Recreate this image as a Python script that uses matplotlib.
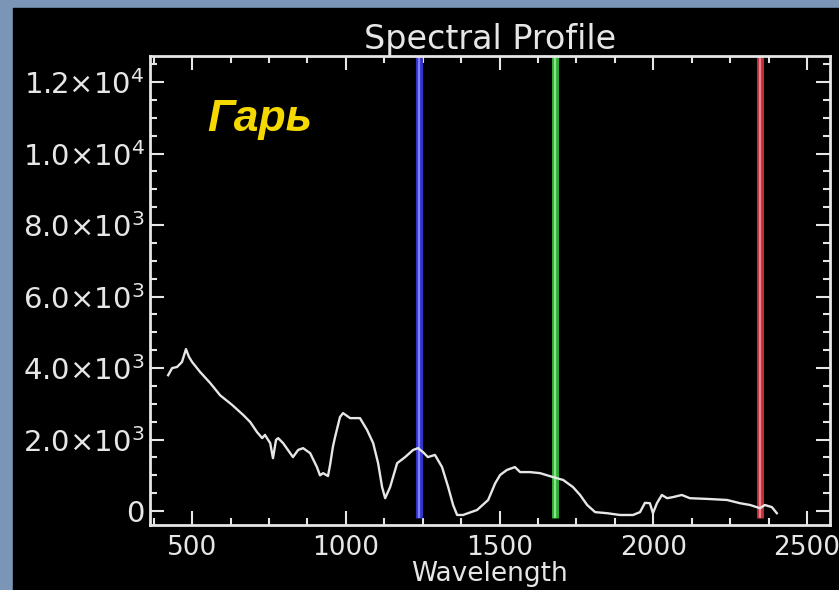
import numpy as np
import matplotlib.pyplot as plt
from matplotlib.patches import Rectangle
from matplotlib.ticker import MultipleLocator, FixedLocator, FixedFormatter

# spectral profile of a burnt area ("Гарь")
wavelength = [422, 435, 451, 467, 480, 490, 500, 526, 559, 591, 630, 666, 689,
              711, 728, 737, 754, 763, 773, 780, 796, 819, 828, 845, 861, 884,
              906, 916, 926, 942, 949, 958, 965, 981, 991, 1014, 1046, 1069,
              1089, 1105, 1118, 1128, 1144, 1167, 1193, 1219, 1235, 1251, 1267,
              1290, 1313, 1333, 1349, 1362, 1381, 1427, 1463, 1486, 1502, 1524,
              1550, 1567, 1599, 1632, 1674, 1707, 1739, 1762, 1785, 1811, 1850,
              1892, 1934, 1957, 1973, 1989, 1999, 2012, 2028, 2045, 2064, 2093,
              2119, 2175, 2240, 2282, 2315, 2347, 2363, 2386, 2402]
radiance = [3800, 4000, 4030, 4170, 4530, 4310, 4170, 3890, 3580, 3240, 2970,
            2690, 2490, 2210, 2040, 2130, 1900, 1480, 1990, 2040, 1900, 1620,
            1510, 1710, 1760, 1620, 1230, 1000, 1060, 980, 1300, 1800, 2070,
            2630, 2740, 2600, 2600, 2270, 1900, 1340, 670, 360, 670, 1340, 1510,
            1710, 1760, 1650, 1510, 1570, 1230, 670, 170, -110, -110, 30, 310,
            780, 1010, 1150, 1230, 1090, 1090, 1060, 950, 870, 670, 450, 170,
            -30, -60, -110, -110, -30, 230, 220, -60, 220, 450, 360, 390, 450,
            360, 340, 310, 220, 170, 80, 170, 110, -60]

# band markers
band_wl = [1238, 1680, 2348]
band_outer = ['#3434cc', '#2fae35', '#c0303a']
band_inner = ['#8080ff', '#8ee28e', '#ec8088']

yticks = [0, 2000, 4000, 6000, 8000, 10000, 12000]
ylabels = ['0', '2.0×10$^3$', '4.0×10$^3$', '6.0×10$^3$', '8.0×10$^3$',
           '1.0×10$^4$', '1.2×10$^4$']

fg = '#e6e6e6'
W, H = 839, 590

fig = plt.figure(figsize=(W / 100, H / 100), dpi=100, facecolor='#7a95b6')
fig.patches.append(Rectangle((13 / W, 0), 1 - 13 / W, 1 - 8 / H,
                             transform=fig.transFigure, color='black', zorder=-1))

ax = fig.add_axes([150 / W, 1 - 525 / H, 680 / W, 469 / H])
ax.set_facecolor('black')

ylo, yhi = -390, 12730
for x, c1, c2 in zip(band_wl, band_outer, band_inner):
    ax.vlines(x, -200, yhi, color=c1, lw=5, zorder=2)
    ax.vlines(x, -200, yhi, color=c2, lw=1.6, zorder=2)

ax.plot(wavelength, radiance, color=fg, lw=1.7, zorder=3)

ax.set_xlim(363, 2575)
ax.set_ylim(ylo, yhi)

ax.xaxis.set_major_locator(MultipleLocator(500))
ax.xaxis.set_minor_locator(MultipleLocator(125))
ax.yaxis.set_major_locator(FixedLocator(yticks))
ax.yaxis.set_major_formatter(FixedFormatter(ylabels))
ax.yaxis.set_minor_locator(MultipleLocator(500))

ax.tick_params(which='both', direction='in', top=True, right=True,
               colors=fg, width=1.5)
ax.tick_params(which='major', length=10)
ax.tick_params(which='minor', length=5)
ax.tick_params(axis='x', pad=7, labelsize=19)
ax.tick_params(axis='y', pad=4, labelsize=21)
for s in ax.spines.values():
    s.set_color(fg)
    s.set_linewidth(2)

ax.set_title('Spectral Profile', color=fg, fontsize=24, pad=2)
ax.set_xlabel('Wavelength', color=fg, fontsize=19, labelpad=0)

fig.text(260 / W, 1 - 120 / H, 'Гарь', color='#f5d800', fontsize=32,
         family='Liberation Sans', weight='bold', style='italic',
         ha='center', va='center')

fig.savefig('out.png', dpi=100, facecolor=fig.get_facecolor())
